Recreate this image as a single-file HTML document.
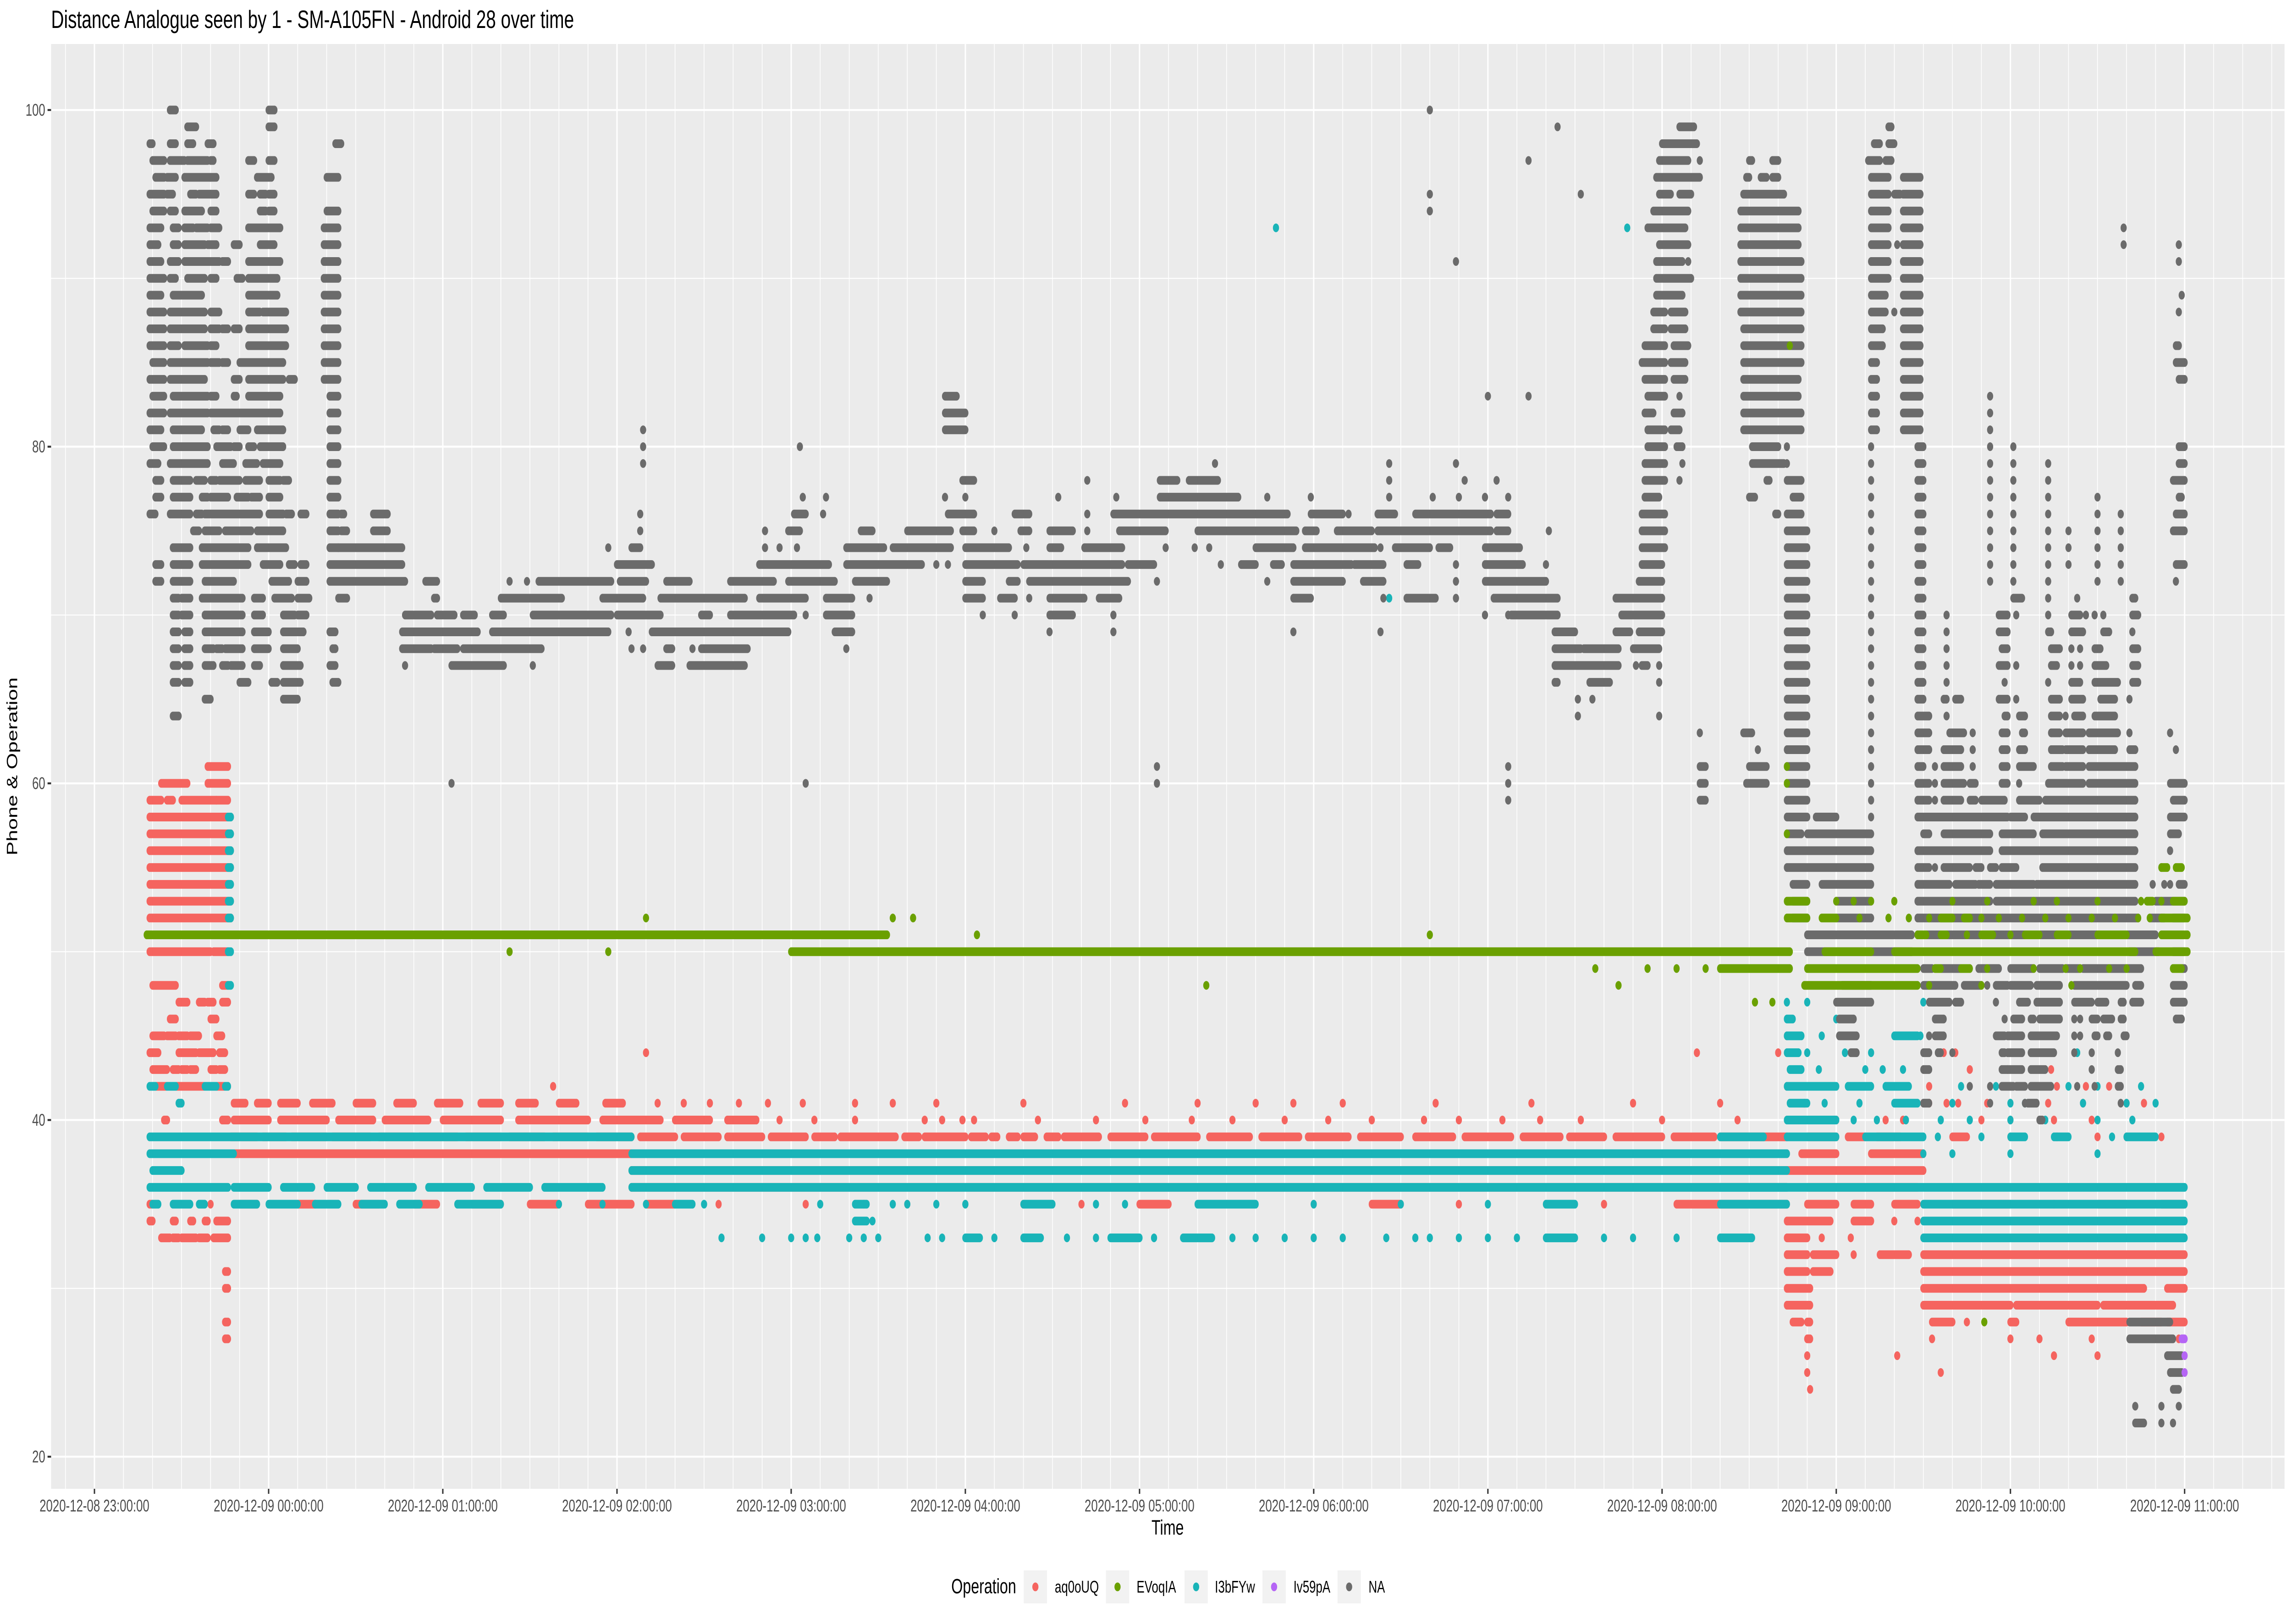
<!DOCTYPE html>
<html><head><meta charset="utf-8"><title>Distance Analogue chart</title>
<style>
html,body{margin:0;padding:0;background:#fff;width:100%;height:100%;overflow:hidden;}
svg{display:block;font-family:"Liberation Sans",Arial,sans-serif;width:100vw;height:100vh;}
</style></head>
<body>
<svg id="chart" viewBox="0 0 7086 3543" preserveAspectRatio="none" xmlns="http://www.w3.org/2000/svg">
  <rect x="0" y="0" width="7086" height="3543" fill="#ffffff"/>
  <text x="158" y="61" font-size="55" fill="#000">Distance Analogue seen by  1 - SM-A105FN - Android 28 over time</text>
  <rect x="158" y="96" width="6905" height="3152" fill="#ebebeb"/>
  <g id="grid"></g>
  <g id="marks"></g>
  <g id="axes"></g>
  <text x="3610" y="3333" font-size="45.7" text-anchor="middle" dominant-baseline="central" fill="#000">Time</text>
  <text x="38" y="1672" font-size="45.7" text-anchor="middle" dominant-baseline="central" fill="#000" transform="rotate(-90 38 1672)">Phone &amp; Operation</text>
  <g id="legend">
    <text x="2941" y="3461" font-size="45.7" dominant-baseline="central" fill="#000">Operation</text>
  </g>
</svg>
<script>
// ---- data (minutes after 2020-12-08 23:00, value) ----
const xTickLabels = ["2020-12-08 23:00:00","2020-12-09 00:00:00","2020-12-09 01:00:00","2020-12-09 02:00:00","2020-12-09 03:00:00","2020-12-09 04:00:00","2020-12-09 05:00:00","2020-12-09 06:00:00","2020-12-09 07:00:00","2020-12-09 08:00:00","2020-12-09 09:00:00","2020-12-09 10:00:00","2020-12-09 11:00:00"];
const xTickMinutes = [0,60,120,180,240,300,360,420,480,540,600,660,720];
const yTicks = [20,40,60,80,100];
const categories = ["aq0oUQ","EVoqIA","I3bFYw","Iv59pA","NA"];

const aqRows = [
"61:39-46","60:23-32,39-46","59:19-23,25-27,30-42,42-46",
"58:19-47","57:19-47","56:19-47","55:19-47","54:19-47","53:19-47","52:19-47","51:19-46",
"50:19-40,41-46","48:20-28,44-46","47:29-32,36-38,39-41,44-46","46:26-28,40-42",
"45:20-24,25-28,29-32,33-36,42-44,583","44:19-22,29-35,36-41,43-45,190,552,580,637,641",
"43:20-25,27-29,30-32,33-35,40-42,43-45,646,674","42:20-46,158,583-586,632,659,664,670,676,686,694,697",
"41:48-52,56-60,64-70,75-82,90-96,104-110,118-126,133-140,146-152,160-166,176-182,194,203,212,222,232,244,262,275,290,320,355,380,400,413,430,462,495,530,560,589,632,638,642,652,673,685,700,706",
"40:24-25,44-46,48-60,64-80,84-96,100-115,120-140,146-170,175-195,200-212,218-228,236,248,262,286,292,299,303,325,345,362,378,392,410,425,440,458,470,485,498,512,540,566,585-600,617,623,650,660,675,688",
"39:47-56,58-66,68-80,82-95,98-110,112-125,128-140,143-155,158-170,173-185,188-200,203-215,218-230,233-245,248-255,257-276,279-284,286-300,302-307,309-311,315-318,320-324,328-332,334-346,350-362,365-380,384-398,402-415,418-432,436-450,455-468,472-488,492-505,508-520,524-540,544-558,560-583,590-600,604-610,614-622,640-645,660,676,690,700,712",
"38:47-180,180-583,588-600,612-630","37:185-583,583-630","36:185-583,590-628",
"35:19-20,40,50-56,70-76,90-98,110-118,130-140,150-160,170-185,190-200,215,245,265,280,300,320,340,360-370,390,420,440-450,470,500,520,545-560,560-583,590-600,606-612,620-628,640-660,675,690-700,712-720",
"34:19-20,27-28,33-34,38-39,42-46,583-598,606-612,620,628",
"33:23-26,27-29,30-35,36-39,41-46,583-590,595,605",
"32:583-590,592-600,606,615-625,630-720","31:45-46,583-590,592-598,630-720",
"30:45-46,583-591,630-706,714-720","29:583-591,630-660,662-690,692-716",
"28:45-46,585-588,590-591,633-640,645,660-662,680-700,705-712,714-720",
"27:45-46,590-591,633,660,670,688,718","26:590,621,675,690","25:590,636","24:591"
];
const i3Rows = [
"93:407,528","71:446",
"58:46-47","57:46-47","56:46-47","55:46-47","54:46-47","53:46-47","52:46-47","50:46-47","48:46-47",
"47:583,590,630","46:583-585,600","45:583-588,595,620-628,629","44:583-587,590,603,612,683","43:584-588,594,610,616,623",
"42:19-21,25-28,38-42,45-46,583-600,604-612,617-625,643,655,680,690,705",
"41:29-30,584-590,596,608,620-628,640,660,665,685,700,710",
"40:583-600,606,614,624,636,646,660,672,690,702",
"39:19-185,560-575,583-600,610-630,635,650,660-665,675-680,695,700-710",
"38:19-48,185-583,630,640,660,690","37:20-30,185-583",
"36:19-46,48-60,65-75,80-90,95-110,115-130,135-150,155-175,185-583,560-720",
"35:20-22,27-33,36-38,48-56,60-70,76-84,92-100,105-112,125-140,160,175,190,200-206,210,250,262-266,275,280,290,300,320-330,345,355,380-400,420,450,480,500-510,560-583,630-720",
"34:262-266,268,630-720",
"33:216,230,240,245,249,260,265,270,287,292,300-305,310,320-326,335,345,350-360,365,375-385,392,400,410,420,430,445,455,460,470,480,490,500-510,520,530,545,560-571,630-720"
];
const naRows = [
"100:26-28,60-62,460",
"99:32-35,60-62,504,546-551,618-619",
"98:19-20,26-28,32-34,39-41,83-85,540-552,613-615,618-620",
"97:20-24,26-31,32-39,40-41,53-55,60-62,494,539-549,553,570-571,578-580,611-615,617-619",
"96:21-24,25-28,31-40,40-42,56-61,80-84,538-553,569-570,574-576,578-580,612-618,623-629",
"95:19-24,25-27,33-35,36-40,40-42,53-55,57-59,60-62,460,512,539-543,546-550,568-582,612-618,620-622,623-629",
"94:20-24,26-28,31-37,40-42,57-59,60-62,80-84,460,537-549,567-587,612-618,623-629",
"93:19-23,27-29,31-34,35-39,40-43,53-64,79-84,535-548,567-587,612-618,623-629,699",
"92:19-22,27-29,31-38,39-42,48-50,57-62,79-84,539-549,567-587,612-618,621,623-629,699,718",
"91:19-23,26-29,31-40,40-43,44-46,53-64,79-84,469,538-547,549,567-588,612-618,623-629,718",
"90:19-24,26-28,32-38,40-42,49-51,53-63,79-84,538-550,567-588,612-618,623-629",
"89:19-23,27-37,53-63,79-84,538-547,567-588,612-617,623-629,719",
"88:19-24,26-38,40-43,53-57,58-66,79-84,537-541,543-548,567-588,612-617,620,623-629,718",
"87:19-24,26-38,40-43,44-46,48-50,53-66,79-84,537-541,543-548,568-588,612-616,623-629",
"86:19-24,26-29,31-39,40-42,53-66,79-84,534-541,544-549,568-588,612-616,623-629,717-718",
"85:20-24,26-39,40-43,44-46,50-65,79-84,533-541,543-548,568-588,612-614,623-629,717-720",
"84:19-24,26-38,48-50,53-65,67-69,79-84,534-541,544-548,568-587,612-614,623-629,718-720",
"83:20-24,27-39,40-42,48-49,53-64,81-84,293-297,480,494,535-541,546,568-587,612-614,623-629,653",
"82:19-24,26-39,40-64,81-84,293-300,534-537,544-547,568-588,612-614,623-629,653",
"81:19-23,27-37,41-43,44-46,50-53,56-65,81-84,189,293-300,535-541,543-546,568-588,612-614,623-629,653",
"80:20-24,27-39,42-47,48-50,53-55,57-65,81-84,189,243,535-541,545-547,571-580,583,612,628-630,653,661,718-720",
"79:19-22,26-39,44-48,52-56,58-64,81-84,189,386,446,469,534-541,547,571-582,583,612,628-630,653,661,673,718-720",
"78:21-23,27-33,35-38,40-42,43-50,52-57,60-64,65-67,81-84,299-303,342,367-373,377-387,446,472,483,534-541,546,576-577,583-588,612,628-630,653,661,673,716-720",
"77:21-23,27-33,37-39,40-46,49-53,54-57,60-64,81-84,244,252,293,300,332,352,367-394,404,419,446,461,470,479,487,534-539,570-572,585-588,612,628-630,653,661,673,690,718-719",
"76:19-21,26-33,35-37,38-57,60-65,66-68,71-73,81-84,85-86,96-101,188,241-245,251,294-303,317-322,342,351-411,419-430,432,442-448,455-481,483-487,533-541,579-580,583-588,612,628-630,653,661,673,690,698,717-720",
"75:34-36,38-43,45-54,56-65,81-84,85-87,96-101,188,231,239-243,264-268,280-295,299-303,310,319-322,329-337,342,353-369,380-414,417-421,428-440,442-481,483-487,501,533-541,583-590,612,628-630,653,661,673,680,690,698,716-720",
"74:27-33,37-53,56-66,81-84,84-106,177,185-188,231,236,242,259-272,275-295,300-315,321,329-333,341-354,369,379,384,400-413,417-441,443,448-460,463-467,479-491,533-541,583-590,612,628-630,653,661,673,680,690,698",
"73:21-23,27-33,37-53,58-64,67-69,71-73,81-106,180-192,229-253,259-285,290,294,300-318,320-354,356-365,388,395-400,406-409,413-433,434-444,452-456,469,479-492,500,533-540,583-590,612,628-630,653,661,673,680,690,698,717-720",
"72:21-23,27-33,38-48,61-67,70-73,81-107,114-118,143,149,153-178,181-190,197-205,219-234,239-255,262-273,300-306,315-318,322-356,366,404,413-430,437-444,469,479-500,532-540,583-590,612,628-630,653,661,673,690,698,717",
"71:27-29,30-33,37-51,55-58,62-68,70-74,84-87,117-118,140-161,175-189,195-224,229-245,252-261,267,300-306,312-317,322,329-341,346-353,413-419,444,452-462,469,482-504,524-540,583-590,612,628-630,661-664,673,683,702-703",
"70:27-29,30-33,38-51,55-58,65-69,70-73,107-116,118-124,127-131,137-141,151-178,180-195,209-212,219-241,245,252-261,306,317,329-337,351,479,487,488-504,526-540,583-590,612,628-630,638,656-659,662,673,681-684,686,689,692,702-704",
"69:27-29,31-33,38-51,55-60,65-72,81-83,106-132,137-177,184,192-239,255-261,329,351,413,443,503-510,524-529,532-540,583-590,612,628-630,638,656-659,673-674,681-685,692-694,702",
"68:27-29,31-33,38-41,42-44,45-51,55-60,65-70,82-83,106-116,117-125,127-154,185,189,197-199,206,209-225,259,503-512,513-525,530-539,583-590,612,628-630,638,657-659,674-677,681,684,689-691,702-704",
"67:27-29,31-33,38-41,44-46,47-51,55-57,65-71,81-83,107,123-141,151,194-199,205-224,503-525,531,533-535,539,583-590,612,628-630,638,656-659,662,674-676,681,684,689-693,702-704",
"66:27-29,31-33,50-53,61-63,65-71,82-84,503-504,515-522,539,583-590,612,628-630,638,658,673,681-684,689-697,702-704",
"65:38-40,65-70,511,516,583-590,612,628-630,637-638,641-643,656-659,662,674-677,681-685,691-696,701",
"64:27-29,511,539,583-590,612,628-632,638,658-659,663-665,674-677,679,682-685,689-696",
"63:553,568-571,583-590,612,628-632,639-644,647,657-659,664-665,674-677,679-685,687-697,701,715",
"62:573,583-590,612,628-632,637-643,647,657-659,663-665,674-678,679-685,687-696,701-703,717",
"61:366,487,553-555,570-576,583-590,612,628-630,634,637-643,647,657-659,663-668,674-678,679-685,687-703",
"60:123,245,366,487,553-555,569-576,583-590,612,628-632,634,637-644,646-648,657-659,663,673-685,687-703,715-720",
"59:487,553-555,583-590,612,628-632,634,637-643,646-648,650-658,663-670,672-703,716-720",
"58:583-590,593-600,612,628-659,660-665,668-703,715-720",
"57:583-588,590-612,630-632,637-653,657-668,671-703,715-718",
"56:583-612,628-653,657-703,715",
"55:583-612,628-632,634,637-646,648-650,653-655,657-662,671-703,712",
"54:585-590,595-612,628-639,641-648,649-653,655-668,669-703,709,713,715,718-720",
"53:585-590,600-612,628-653,655-703,710-720",
"52:585-590,600-612,628-704,708-713,716-720",
"51:590-626,628-710,714-720","50:590-626,701-711,716-720",
"49:605-612,630-633,636-643,646,649-656,660-668,670-678,679-684,685-705,716-720",
"48:602-612,630-641,644-650,652,655-659,660-667,669-677,682-700,703-705,716-720",
"47:600-612,632-639,641-643,655,663-666,669-677,682-688,690-693,698-699,702-705,716-720",
"46:601-606,634-637,658,661-664,667-668,670-677,682,684,688-690,692-695,698-699,717-719",
"45:601-607,632,634-637,655-658,659-664,667-676,682,684,689-690,693-694,699-700",
"44:605-607,630-632,635-636,640,657-658,659-664,667-675,682,688,697",
"43:630-632,657-659,659-664,667-672,688,697-698",
"42:646,653,657-661,662-665,667-674,683,689,697-698",
"41:630-632,653,665,666-669,698","40:670-671",
"28:701-715","27:701-716","26:714-719","25:715-719","24:716-718","23:703,712,718","22:703-706,712,716"
];
const evRows = [
"86:584","61:583","60:583","57:583","55:712-714,717-719",
"53:583-590,600,606,612,620,640,652,668,676,690,705,707-709,712,716-720",
"52:190,275,282,583-590,595-600,608,618,625,632,636-640,644-646,650,656,664,672,680,688,696,704,708,712-721",
"51:18-273,304,460,628-631,636-638,645,650-654,660,665-670,676-680,690-700,712-721",
"50:143,177,240-270,270-584,596-612,620-703,710-721",
"49:517,535,545,555,560-584,590-628,634-636,643-646,652,668,679,684,694,700,716-719",
"48:383,525,589-628,632,650,681","47:572,578","28:651"
];
const ivRows = ["27:719-720","26:720","25:720"];

// ---- scales ----
const X0 = 292, PXMIN = 8.975;
const Y100 = 240, PXUNIT = 36.725;
const PL = 158, PR = 7063, PT = 96, PB = 3248;
function xs(m){ return X0 + m*PXMIN; }
function ys(v){ return Y100 + (100 - v)*PXUNIT; }

const NS = "http://www.w3.org/2000/svg";
function mk(tag, attrs, parent){
  const e = document.createElementNS(NS, tag);
  for (const k in attrs) e.setAttribute(k, attrs[k]);
  parent.appendChild(e);
  return e;
}

// grid
const grid = document.getElementById('grid');
for (let m = -10; xs(m) < PR; m += 10){
  if (xs(m) <= PL) continue;
  const major = (m % 60 === 0);
  const l = mk('line', {x1: xs(m), x2: xs(m), y1: PT, y2: PB, stroke: '#ffffff', 'stroke-width': major ? 4.3 : 2.2}, grid);
  
  
}
[30,50,70,90].forEach(v => {
  const l = mk('line', {x1: PL, x2: PR, y1: ys(v), y2: ys(v), stroke: '#ffffff', 'stroke-width': 2.2}, grid);
  
  
});
yTicks.forEach(v => {
  const l = mk('line', {x1: PL, x2: PR, y1: ys(v), y2: ys(v), stroke: '#ffffff', 'stroke-width': 4.3}, grid);
  
  
});

// axes
const axes = document.getElementById('axes');
yTicks.forEach(v => {
  const t = mk('line', {x1: 147, x2: PL, y1: ys(v), y2: ys(v), stroke: '#333333', 'stroke-width': 4.3}, axes);
  
  
  const tx = mk('text', {x: 140, y: ys(v), 'font-size': 36.6, 'text-anchor': 'end', 'dominant-baseline': 'central', fill: '#4d4d4d'}, axes);
  tx.textContent = String(v);
  
  
});
xTickMinutes.forEach((m, i) => {
  const t = mk('line', {x1: xs(m), x2: xs(m), y1: PB, y2: PB + 11, stroke: '#333333', 'stroke-width': 4.3}, axes);
  
  
  const tx = mk('text', {x: xs(m), y: 3285, 'font-size': 36.6, 'text-anchor': 'middle', 'dominant-baseline': 'central', fill: '#4d4d4d'}, axes);
  tx.textContent = xTickLabels[i];
  
  
});

// marks
function parseRows(rows){
  return rows.map(r => {
    const parts = r.split(':');
    const v = +parts[0];
    const segs = parts[1].split(',').map(s => {
      const p = s.split('-').map(Number);
      return p.length > 1 ? [p[0], p[1]] : [p[0], p[0]];
    });
    return {v: v, segs: segs};
  });
}
const R = 9.5;
const marks = document.getElementById('marks');
function drawSeries(rows, color, name){
  const g = mk('g', {fill: color, stroke: color}, marks);
  
  
  parseRows(rows).forEach(row => {
    row.segs.forEach(s => {
      let e;
      if (s[0] === s[1]) {
        e = mk('circle', {cx: xs(s[0]), cy: ys(row.v), r: R, stroke: 'none'}, g);
      } else {
        e = mk('line', {x1: xs(s[0]), x2: xs(s[1]), y1: ys(row.v), y2: ys(row.v), 'stroke-width': 2*R, 'stroke-linecap': 'round'}, g);
      }
      
      
    });
  });
}
const colors = {aq: '#F5645F', ev: '#6AA000', i3: '#19B4B8', iv: '#B565F5', na: '#6B6B6B'};
drawSeries(aqRows, colors.aq, 'aq0oUQ');
drawSeries(i3Rows, colors.i3, 'I3bFYw');
drawSeries(naRows, colors.na, 'NA');
drawSeries(evRows, colors.ev, 'EVoqIA');
drawSeries(ivRows, colors.iv, 'Iv59pA');

// legend
const legend = document.getElementById('legend');
const keyX = [3165, 3419, 3662, 3903, 4135];
const labX = [3261, 3514, 3756, 3999, 4231];
const legColors = [colors.aq, colors.ev, colors.i3, colors.iv, colors.na];
categories.forEach((c, i) => {
  const k = mk('rect', {x: keyX[i], y: 3426, width: 72, height: 72, fill: '#f2f2f2'}, legend);
  
  
  const d = mk('circle', {cx: keyX[i] + 36, cy: 3462, r: R, fill: legColors[i]}, legend);
  
  
  const t = mk('text', {x: labX[i], y: 3462, 'font-size': 36.6, 'dominant-baseline': 'central', fill: '#000'}, legend);
  t.textContent = c;
  
  
});
</script>
</body></html>
